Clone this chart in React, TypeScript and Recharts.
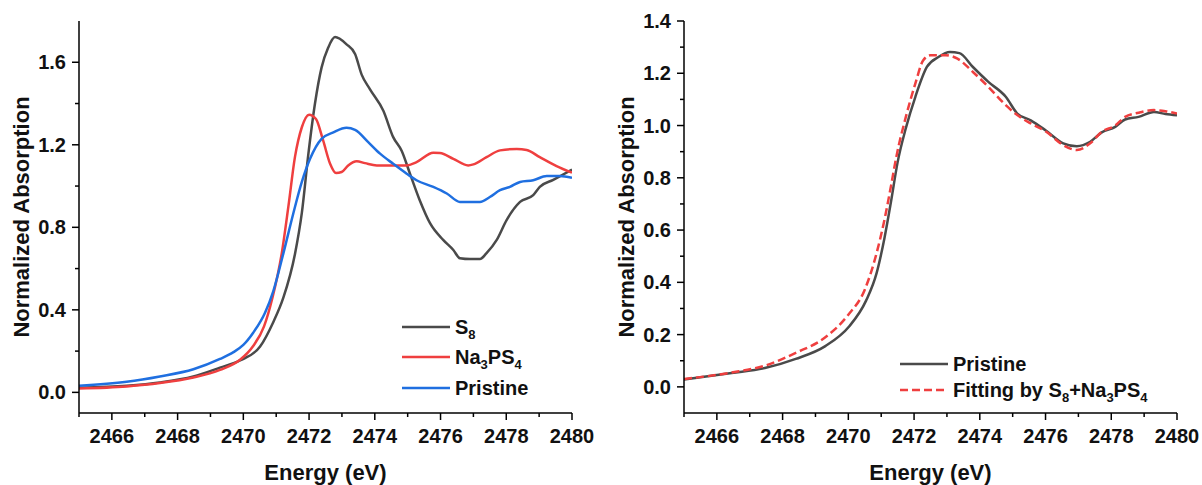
import React from 'react';
import { LineChart, Line, XAxis, YAxis, Legend } from 'recharts';

// left panel: S8, Na3PS4 and pristine spectra
const s8Energy = [2465, 2466.45, 2467.46, 2468.48, 2469.29, 2469.9, 2470.51, 2470.91, 2471.22, 2471.57, 2471.78, 2471.98, 2472.18, 2472.38, 2472.58, 2472.79, 2473.14, 2473.4, 2473.6, 2473.85, 2474.26, 2474.56, 2474.82, 2475.07, 2475.37, 2475.68, 2476.08, 2476.39, 2476.59, 2476.9, 2477.2, 2477.4, 2477.71, 2478.01, 2478.42, 2478.82, 2479.02, 2479.43, 2480];
const s8Values = [0.022, 0.032, 0.048, 0.077, 0.12, 0.155, 0.222, 0.34, 0.46, 0.67, 0.87, 1.157, 1.4, 1.574, 1.67, 1.722, 1.687, 1.64, 1.54, 1.47, 1.365, 1.237, 1.17, 1.06, 0.93, 0.82, 0.739, 0.69, 0.65, 0.646, 0.646, 0.675, 0.739, 0.835, 0.923, 0.956, 0.996, 1.03, 1.08];

const naEnergy = [2465, 2466.45, 2467.46, 2468.48, 2469.29, 2469.9, 2470.3, 2470.63, 2470.88, 2471.17, 2471.37, 2471.57, 2471.78, 2472.0, 2472.21, 2472.43, 2472.64, 2472.82, 2472.99, 2473.19, 2473.45, 2473.7, 2474.06, 2474.56, 2474.97, 2475.27, 2475.78, 2475.98, 2476.39, 2476.84, 2477.0, 2477.4, 2477.81, 2478.32, 2478.62, 2479.02, 2479.53, 2480];
const naValues = [0.019, 0.029, 0.045, 0.072, 0.109, 0.158, 0.225, 0.32, 0.455, 0.675, 0.9, 1.14, 1.285, 1.346, 1.325, 1.22, 1.108, 1.063, 1.068, 1.1, 1.12, 1.111, 1.1, 1.1, 1.1, 1.116, 1.161, 1.16, 1.132, 1.1, 1.105, 1.14, 1.173, 1.18, 1.175, 1.14, 1.097, 1.065];

const priEnergy = [2465, 2466.45, 2467.46, 2468.48, 2469.29, 2469.7, 2470.0, 2470.3, 2470.66, 2470.91, 2471.22, 2471.52, 2471.78, 2472.03, 2472.38, 2472.74, 2473.14, 2473.4, 2473.8, 2474.16, 2474.56, 2474.97, 2475.27, 2475.78, 2476.19, 2476.59, 2477.2, 2477.5, 2477.81, 2478.11, 2478.42, 2478.82, 2479.23, 2479.63, 2480];
const priValues = [0.032, 0.051, 0.077, 0.112, 0.162, 0.195, 0.23, 0.289, 0.386, 0.49, 0.675, 0.867, 1.02, 1.132, 1.229, 1.26, 1.282, 1.272, 1.213, 1.157, 1.108, 1.06, 1.028, 0.996, 0.964, 0.923, 0.923, 0.947, 0.98, 0.996, 1.02, 1.028, 1.049, 1.049, 1.04];

// right panel: pristine vs linear-combination fit
const rPriEnergy = [2465, 2466.45, 2467.46, 2468.4, 2469.3, 2470.03, 2470.54, 2470.86, 2471.1, 2471.3, 2471.5, 2471.75, 2472.04, 2472.39, 2472.74, 2473.09, 2473.38, 2473.79, 2474.26, 2474.79, 2475.14, 2475.55, 2476.02, 2476.54, 2476.95, 2477.36, 2477.71, 2478.12, 2478.42, 2478.83, 2479.3, 2479.65, 2480];
const rPriValues = [0.028, 0.053, 0.072, 0.107, 0.156, 0.232, 0.33, 0.435, 0.57, 0.71, 0.86, 0.99, 1.11, 1.224, 1.262, 1.281, 1.277, 1.224, 1.167, 1.11, 1.046, 1.02, 0.98, 0.932, 0.921, 0.938, 0.974, 0.995, 1.023, 1.033, 1.052, 1.044, 1.039];

const fitEnergy = [2465, 2466.45, 2467.46, 2468.4, 2469.3, 2470.0, 2470.5, 2470.86, 2471.1, 2471.3, 2471.46, 2471.75, 2472.04, 2472.28, 2472.5, 2472.97, 2473.32, 2473.79, 2474.26, 2474.79, 2475.14, 2475.55, 2476.02, 2476.54, 2476.95, 2477.36, 2477.71, 2478.12, 2478.42, 2478.83, 2479.3, 2479.65, 2480];
const fitValues = [0.03, 0.055, 0.081, 0.13, 0.19, 0.276, 0.372, 0.512, 0.64, 0.77, 0.88, 1.033, 1.161, 1.25, 1.269, 1.269, 1.256, 1.205, 1.148, 1.078, 1.04, 1.008, 0.976, 0.925, 0.906, 0.932, 0.976, 1.0, 1.033, 1.049, 1.059, 1.055, 1.046];

const xTicks = [2465, 2466, 2467, 2468, 2469, 2470, 2471, 2472, 2473, 2474, 2475, 2476, 2477, 2478, 2479, 2480];
const leftYTicks = [0, 0.2, 0.4, 0.6, 0.8, 1.0, 1.2, 1.4, 1.6];
const rightYTicks = [0, 0.1, 0.2, 0.3, 0.4, 0.5, 0.6, 0.7, 0.8, 0.9, 1.0, 1.1, 1.2, 1.3, 1.4];

const FONT = '"Liberation Sans", Arial, sans-serif';
const GRAY = '#4a4a4a';
const RED = '#ef3f3f';
const BLUE = '#1f6fe0';

const zip = (es: number[], vs: number[]) => es.map((e, i) => ({ e, v: vs[i] }));

const XTick = ({ x, y, payload }: any) => {
  const major = payload.value % 2 === 0;
  return (
    <g>
      <line x1={x} x2={x} y1={y} y2={y + (major ? 7 : 4)} stroke="#000" strokeWidth={1.5} />
      {major && (
        <text x={x} y={y + 23} textAnchor="middle" dominantBaseline="central" fontFamily={FONT} fontWeight={700} fontSize={20} fill="#111">
          {payload.value}
        </text>
      )}
    </g>
  );
};

const makeYTick = (step: number) => ({ x, y, payload }: any) => {
  const major = Math.round(payload.value * 10) % Math.round(step * 10) === 0;
  return (
    <g>
      <line x1={x - (major ? 7 : 4)} x2={x} y1={y} y2={y} stroke="#000" strokeWidth={1.5} />
      {major && (
        <text x={x - 13} y={y} textAnchor="end" dominantBaseline="central" fontFamily={FONT} fontWeight={700} fontSize={20} fill="#111">
          {payload.value.toFixed(1)}
        </text>
      )}
    </g>
  );
};

const yTitle = (cx: number) => (props: any) => {
  const vb = props.viewBox;
  const cy = vb.y + vb.height / 2;
  return (
    <text x={cx} y={cy} transform={`rotate(-90 ${cx} ${cy})`} textAnchor="middle" dominantBaseline="central" fontFamily={FONT} fontWeight={700} fontSize={22} fill="#111">
      Normalized Absorption
    </text>
  );
};

type Seg = { t: string; sub?: boolean };
type Item = { label: Seg[]; color: string; dash?: string };

const LegendBox = ({ items, rowHeight }: { items: Item[]; rowHeight: number }) => (
  <div style={{ fontFamily: FONT, fontWeight: 700, fontSize: 20, color: '#111' }}>
    {items.map((it, i) => (
      <div key={i} style={{ display: 'flex', alignItems: 'center', height: rowHeight }}>
        <svg width={48} height={6} style={{ display: 'block' }}>
          <line x1={0} x2={48} y1={3} y2={3} stroke={it.color} strokeWidth={2.5} strokeDasharray={it.dash} />
        </svg>
        <span style={{ marginLeft: 5, lineHeight: 1, whiteSpace: 'nowrap' }}>
          {it.label.map((s, j) =>
            s.sub ? (
              <span key={j} style={{ fontSize: 13, position: 'relative', top: 5 }}>{s.t}</span>
            ) : (
              <span key={j}>{s.t}</span>
            )
          )}
        </span>
      </div>
    ))}
  </div>
);

const leftLegend: Item[] = [
  { label: [{ t: 'S' }, { t: '8', sub: true }], color: GRAY },
  { label: [{ t: 'Na' }, { t: '3', sub: true }, { t: 'PS' }, { t: '4', sub: true }], color: RED },
  { label: [{ t: 'Pristine' }], color: BLUE },
];
const rightLegend: Item[] = [
  { label: [{ t: 'Pristine' }], color: GRAY },
  {
    label: [{ t: 'Fitting by S' }, { t: '8', sub: true }, { t: '+Na' }, { t: '3', sub: true }, { t: 'PS' }, { t: '4', sub: true }],
    color: RED,
    dash: '8 4',
  },
];

const frameAxes = (domain: number[]) => [
  <XAxis key="top" xAxisId="top" orientation="top" type="number" domain={[2465, 2480]} height={0} tick={false} tickLine={false} axisLine={{ stroke: '#000', strokeWidth: 1.5 }} />,
  <YAxis key="right" yAxisId="right" orientation="right" type="number" domain={domain} width={0} tick={false} tickLine={false} axisLine={{ stroke: '#000', strokeWidth: 1.5 }} />,
];

export default function App() {
  return (
    <div style={{ position: 'absolute', left: 0, top: 0, width: 1202, height: 485, background: '#fff' }}>
      <div style={{ position: 'absolute', left: 0, top: 0 }}>
        <LineChart width={600} height={485} margin={{ top: 21, right: 28, bottom: 0, left: 0 }}>
          <XAxis dataKey="e" type="number" domain={[2465, 2480]} ticks={xTicks} interval={0} height={72} tickSize={0} tickMargin={0} tickLine={false} tick={<XTick />} axisLine={{ stroke: '#000', strokeWidth: 1.5 }} allowDataOverflow
            label={{ value: 'Energy (eV)', position: 'insideBottom', offset: 5, fontFamily: FONT, fontWeight: 700, fontSize: 22, fill: '#111' }} />
          <YAxis type="number" domain={[-0.1, 1.8]} ticks={leftYTicks} interval={0} width={79} tickSize={0} tickMargin={0} tickLine={false} tick={makeYTick(0.4)} axisLine={{ stroke: '#000', strokeWidth: 1.5 }} allowDataOverflow label={yTitle(21)} />
          {frameAxes([-0.1, 1.8])}
          <Line data={zip(s8Energy, s8Values)} dataKey="v" type="monotone" stroke={GRAY} strokeWidth={2.5} dot={false} isAnimationActive={false} />
          <Line data={zip(naEnergy, naValues)} dataKey="v" type="monotone" stroke={RED} strokeWidth={2.5} dot={false} isAnimationActive={false} />
          <Line data={zip(priEnergy, priValues)} dataKey="v" type="monotone" stroke={BLUE} strokeWidth={2.5} dot={false} isAnimationActive={false} />
          <Legend layout="horizontal" verticalAlign="middle" align="center"
            wrapperStyle={{ left: 402, top: 312, width: 190, height: 92 }}
            content={() => <LegendBox items={leftLegend} rowHeight={30.3} />} />
        </LineChart>
      </div>
      <div style={{ position: 'absolute', left: 600, top: 0 }}>
        <LineChart width={602} height={485} margin={{ top: 21, right: 25, bottom: 0, left: 0 }}>
          <XAxis dataKey="e" type="number" domain={[2465, 2480]} ticks={xTicks} interval={0} height={72} tickSize={0} tickMargin={0} tickLine={false} tick={<XTick />} axisLine={{ stroke: '#000', strokeWidth: 1.5 }} allowDataOverflow
            label={{ value: 'Energy (eV)', position: 'insideBottom', offset: 5, fontFamily: FONT, fontWeight: 700, fontSize: 22, fill: '#111' }} />
          <YAxis type="number" domain={[-0.1, 1.4]} ticks={rightYTicks} interval={0} width={84} tickSize={0} tickMargin={0} tickLine={false} tick={makeYTick(0.2)} axisLine={{ stroke: '#000', strokeWidth: 1.5 }} allowDataOverflow label={yTitle(26)} />
          {frameAxes([-0.1, 1.4])}
          <Line data={zip(rPriEnergy, rPriValues)} dataKey="v" type="monotone" stroke={GRAY} strokeWidth={2.5} dot={false} isAnimationActive={false} />
          <Line data={zip(fitEnergy, fitValues)} dataKey="v" type="monotone" stroke={RED} strokeWidth={2.5} strokeDasharray="8 4" dot={false} isAnimationActive={false} />
          <Legend layout="horizontal" verticalAlign="middle" align="center"
            wrapperStyle={{ left: 300, top: 351, width: 290, height: 52 }}
            content={() => <LegendBox items={rightLegend} rowHeight={26} />} />
        </LineChart>
      </div>
    </div>
  );
}
